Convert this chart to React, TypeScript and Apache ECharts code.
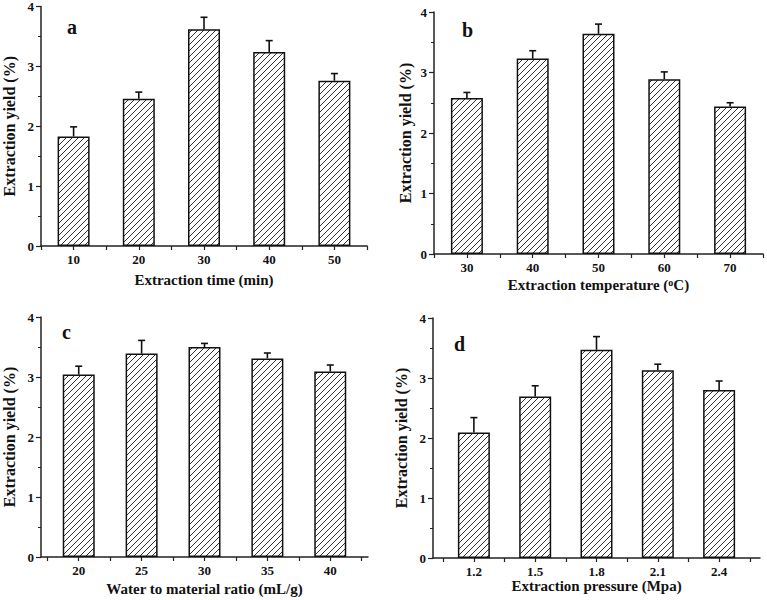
import React, { useEffect, useRef } from 'react';
import * as echarts from 'echarts';

// Panel a: extraction time
const timeCats = [10, 20, 30, 40, 50];
const timeYield = [1.83, 2.46, 3.62, 3.24, 2.76];
const timeErr = [0.16, 0.11, 0.2, 0.19, 0.12];

// Panel b: extraction temperature
const tempCats = [30, 40, 50, 60, 70];
const tempYield = [2.58, 3.23, 3.64, 2.89, 2.44];
const tempErr = [0.09, 0.13, 0.16, 0.12, 0.06];

// Panel c: water to material ratio
const ratioCats = [20, 25, 30, 35, 40];
const ratioYield = [3.04, 3.39, 3.5, 3.31, 3.09];
const ratioErr = [0.14, 0.22, 0.06, 0.09, 0.11];

// Panel d: extraction pressure
const pressCats = [1.2, 1.5, 1.8, 2.1, 2.4];
const pressYield = [2.09, 2.69, 3.47, 3.13, 2.8];
const pressErr = [0.25, 0.18, 0.22, 0.1, 0.15];

const yTickLabels = ['0', '1', '2', '3', '4'];

const FONT = "'Liberation Serif', 'Times New Roman', serif";

function makeHatch(): HTMLCanvasElement {
  const s = 6;
  const c = document.createElement('canvas');
  c.width = s;
  c.height = s;
  const ctx = c.getContext('2d')!;
  ctx.fillStyle = '#fff';
  ctx.fillRect(0, 0, s, s);
  ctx.strokeStyle = '#333';
  ctx.lineWidth = 1;
  ctx.beginPath();
  ctx.moveTo(-1, s + 1);
  ctx.lineTo(s + 1, -1);
  ctx.moveTo(-1, 1);
  ctx.lineTo(1, -1);
  ctx.moveTo(s - 1, s + 1);
  ctx.lineTo(s + 1, s - 1);
  ctx.stroke();
  return c;
}

interface Panel {
  cats: number[];
  vals: number[];
  errs: number[];
  min: number;
  max: number;
  xName: string;
  letter: string;
  grid: { left: number; top: number; width: number; height: number };
  yGap: number;
  xGap: number;
  letterPos: [number, number];
  decimals: number;
}

const panels: Panel[] = [
  {
    cats: timeCats, vals: timeYield, errs: timeErr, min: 5, max: 55,
    xName: 'Extraction time (min)', letter: 'a',
    grid: { left: 40, top: 6, width: 327, height: 240 }, yGap: 24, xGap: 26,
    letterPos: [67, 17], decimals: 0,
  },
  {
    cats: tempCats, vals: tempYield, errs: tempErr, min: 25, max: 75,
    xName: 'Extraction temperature ({sup|o}C)', letter: 'b',
    grid: { left: 434, top: 12, width: 329, height: 242 }, yGap: 21, xGap: 23,
    letterPos: [462, 20], decimals: 0,
  },
  {
    cats: ratioCats, vals: ratioYield, errs: ratioErr, min: 17, max: 43,
    xName: 'Water to material ratio (mL/g)', letter: 'c',
    grid: { left: 40, top: 317, width: 328, height: 240 }, yGap: 24, xGap: 24,
    letterPos: [62, 322], decimals: 0,
  },
  {
    cats: pressCats, vals: pressYield, errs: pressErr, min: 1.0, max: 2.6,
    xName: 'Extraction pressure (Mpa)', letter: 'd',
    grid: { left: 433, top: 318, width: 327, height: 240 }, yGap: 24, xGap: 20,
    letterPos: [454, 334], decimals: 1,
  },
];

export default function App() {
  const ref = useRef<HTMLDivElement>(null);

  useEffect(() => {
    if (!ref.current) return;
    const chart = echarts.init(ref.current, null, { renderer: 'svg' });
    const hatch = makeHatch();

    const grids: any[] = [];
    const xAxes: any[] = [];
    const yAxes: any[] = [];
    const series: any[] = [];
    const graphics: any[] = [];

    panels.forEach((p, i) => {
      grids.push({ ...p.grid, containLabel: false });
      const step = p.cats[1] - p.cats[0];
      const minors = [p.cats[0] - step / 2, ...p.cats.map((c) => c + step / 2)];
      const ticks = [...p.cats, ...minors].sort((a, b) => a - b);
      xAxes.push({
        type: 'value',
        gridIndex: i,
        min: p.min,
        max: p.max,
        name: p.xName,
        nameLocation: 'middle',
        nameGap: p.xGap,
        nameTextStyle: {
          fontFamily: FONT,
          fontWeight: 'bold',
          fontSize: 15,
          color: '#111',
          verticalAlign: 'top',
          rich: {
            sup: { fontFamily: FONT, fontWeight: 'bold', fontSize: 10, color: '#111', verticalAlign: 'top', padding: [0, 0, 6, 0] },
          },
        },
        splitLine: { show: false },
        axisLine: { show: true, onZero: false, lineStyle: { color: '#222', width: 1.5 } },
        axisTick: { show: true, length: 4, customValues: ticks, lineStyle: { color: '#222', width: 1.2 } },
        axisLabel: {
          customValues: p.cats,
          margin: 7,
          fontFamily: FONT,
          fontWeight: 'bold',
          fontSize: 13,
          color: '#111',
          formatter: (v: number) => v.toFixed(p.decimals),
        },
      });
      yAxes.push({
        type: 'value',
        gridIndex: i,
        min: 0,
        max: 4,
        interval: 1,
        name: 'Extraction yield (%)',
        nameLocation: 'middle',
        nameGap: p.yGap,
        nameTextStyle: { fontFamily: FONT, fontWeight: 'bold', fontSize: 16, color: '#111' },
        splitLine: { show: false },
        axisLine: { show: true, lineStyle: { color: '#222', width: 1.5 } },
        axisTick: { show: true, length: 5, lineStyle: { color: '#222', width: 1.2 } },
        minorTick: { show: true, splitNumber: 2, length: 3, lineStyle: { color: '#222', width: 1 } },
        axisLabel: {
          fontFamily: FONT,
          fontWeight: 'bold',
          fontSize: 13,
          color: '#111',
          margin: 7,
          formatter: (v: number) => yTickLabels[v] ?? String(v),
        },
      });
      series.push({
        type: 'bar',
        xAxisIndex: i,
        yAxisIndex: i,
        barWidth: 32,
        data: p.cats.map((c, k) => [c, p.vals[k]]),
        itemStyle: {
          color: { image: hatch, repeat: 'repeat' },
          borderColor: '#111',
          borderWidth: 1.5,
        },
        z: 2,
      });
      series.push({
        type: 'custom',
        xAxisIndex: i,
        yAxisIndex: i,
        data: p.cats.map((c, k) => [c, p.vals[k], p.errs[k]]),
        encode: { x: 0, y: 1 },
        z: 3,
        renderItem: (params: any, api: any) => {
          const x = api.value(0);
          const y = api.value(1);
          const e = api.value(2);
          const b = api.coord([x, y]);
          const t = api.coord([x, y + e]);
          return {
            type: 'group',
            children: [
              { type: 'line', shape: { x1: b[0], y1: b[1], x2: t[0], y2: t[1] }, style: { stroke: '#111', lineWidth: 1.6 } },
              { type: 'line', shape: { x1: t[0] - 3.5, y1: t[1], x2: t[0] + 3.5, y2: t[1] }, style: { stroke: '#111', lineWidth: 1.6 } },
            ],
          };
        },
      });
      graphics.push({
        type: 'text',
        left: p.letterPos[0],
        top: p.letterPos[1],
        style: { text: p.letter, font: `bold 20px ${FONT}`, fill: '#111' },
      });
    });

    chart.setOption({
      animation: false,
      backgroundColor: '#fff',
      grid: grids,
      xAxis: xAxes,
      yAxis: yAxes,
      series,
      graphic: graphics,
    });

    return () => chart.dispose();
  }, []);

  return (
    <div
      ref={ref}
      style={{ position: 'fixed', left: 0, top: 0, width: 767, height: 600, background: '#fff' }}
    />
  );
}
